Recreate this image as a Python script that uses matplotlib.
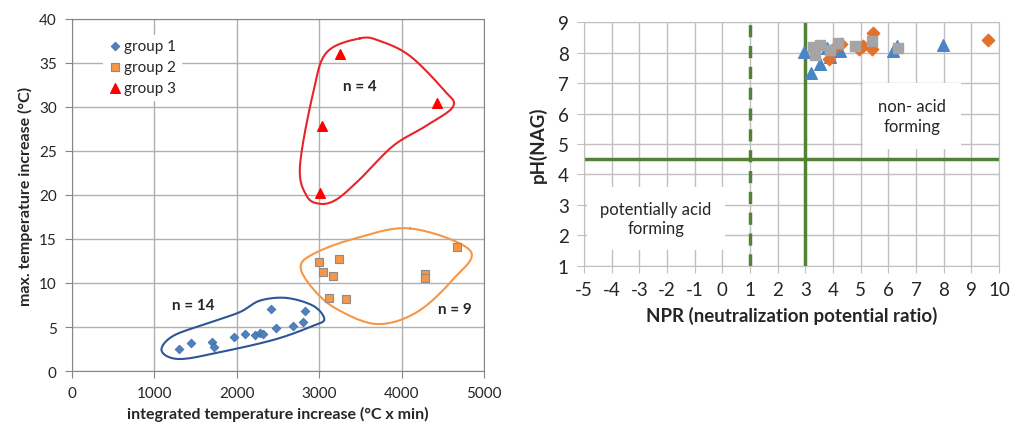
import numpy as np
import matplotlib
matplotlib.use("Agg")
import matplotlib.pyplot as plt

plt.rcParams['font.family'] = ['Lato', 'DejaVu Sans']
plt.rcParams['axes.unicode_minus'] = False

# left chart data
g1_x = [1299, 1440, 1695, 1727, 1970, 2100, 2225, 2285, 2322, 2415, 2476, 2686, 2800, 2828]
g1_y = [2.53, 3.18, 3.26, 2.76, 3.83, 4.24, 4.09, 4.32, 4.2, 7.08, 4.89, 5.08, 5.57, 6.82]
g2_x = [2993, 3244, 3050, 3167, 3123, 3325, 4280, 4280, 4676]
g2_y = [12.35, 12.69, 11.29, 10.8, 8.3, 8.18, 10.98, 10.6, 14.09]
g3_x = [3256, 4430, 3030, 3014]
g3_y = [36.0, 30.45, 27.8, 20.2]

# outlines drawn around each group (control points, smoothed)
loop1 = [(2605, 8.3), (2929, 7.4), (3062, 5.9), (2929, 5.15), (2484, 3.64), (1877, 2.3),
         (1311, 1.36), (1088, 2.3), (1230, 4.0), (1675, 5.5), (2039, 6.7), (2282, 8.0)]
loop2 = [(4102, 16.2), (4830, 13.7), (4628, 10.45), (4183, 6.67), (3698, 5.34), (3212, 7.05),
         (2929, 9.3), (2775, 11.8), (2929, 13.3), (3414, 15.0)]
loop3 = [(3495, 37.8), (3738, 37.5), (4102, 35.8), (4506, 32.0), (4628, 30.1), (4305, 27.9),
         (3900, 25.6), (3495, 21.8), (3212, 19.5), (3010, 19.0), (2848, 19.9), (2767, 23.3),
         (2929, 31.7), (3091, 36.2)]

# right chart data
blue_x = [2.95, 3.2, 3.53, 3.77, 3.9, 4.27, 6.18, 6.3, 7.96]
blue_y = [8.03, 7.35, 7.63, 8.15, 7.85, 8.05, 8.05, 8.22, 8.25]
orange_x = [3.87, 3.95, 4.3, 4.95, 5.08, 5.4, 5.43, 9.62]
orange_y = [7.8, 8.1, 8.28, 8.13, 8.22, 8.12, 8.65, 8.43]
gray_x = [3.27, 3.35, 3.53, 3.9, 4.17, 4.8, 5.4, 6.35]
gray_y = [8.18, 7.92, 8.25, 8.08, 8.32, 8.22, 8.4, 8.15]


def smooth_loop(pts, n=30):
    p = np.array(pts, dtype=float)
    m = len(p)
    out = []
    for i in range(m):
        p0, p1, p2, p3 = p[i - 1], p[i], p[(i + 1) % m], p[(i + 2) % m]
        t = np.linspace(0, 1, n, endpoint=False)[:, None]
        out.append(0.5 * ((2 * p1) + (-p0 + p2) * t + (2 * p0 - 5 * p1 + 4 * p2 - p3) * t ** 2
                          + (-p0 + 3 * p1 - 3 * p2 + p3) * t ** 3))
    out = np.vstack(out)
    return np.vstack([out, out[:1]])


fig = plt.figure(figsize=(10.11, 4.27), dpi=100)

# ---- left chart
ax1 = fig.add_axes([0.0712, 0.1288, 0.4075, 0.8244])
ax1.set_xlim(0, 5000)
ax1.set_ylim(0, 40)
ax1.set_xticks(range(0, 5001, 1000))
ax1.set_yticks(range(0, 41, 5))
ax1.grid(True, color='#b0b0b0', lw=1)
ax1.set_axisbelow(True)
for s in ax1.spines.values():
    s.set_color('#868686')
ax1.tick_params(colors='#868686', labelcolor='#262626', labelsize=11, length=5, pad=6)

for pts, c in [(loop1, '#2e5597'), (loop2, '#f79646'), (loop3, '#e8242a')]:
    xy = smooth_loop(pts)
    ax1.plot(xy[:, 0], xy[:, 1], color=c, lw=1.5, zorder=2)

ax1.scatter(g1_x, g1_y, marker='D', s=20, color='#4f81bd', edgecolors='#3a6aa8', lw=0.5,
            label='group 1', zorder=3)
ax1.scatter(g2_x, g2_y, marker='s', s=40, color='#f79646', edgecolors='#8c8c8c', lw=0.8,
            label='group 2', zorder=3)
ax1.scatter(g3_x, g3_y, marker='^', s=48, color='#ff0000', label='group 3', zorder=3)

ax1.text(3495, 32.4, 'n = 4', fontsize=11, fontweight='bold', ha='center', va='center', color='#262626')
ax1.text(1472, 7.5, 'n = 14', fontsize=11, fontweight='bold', ha='center', va='center', color='#262626')
ax1.text(4648, 7.1, 'n = 9', fontsize=11, fontweight='bold', ha='center', va='center', color='#262626')

leg = ax1.legend(loc='upper left', bbox_to_anchor=(0.075, 0.955), frameon=True, fancybox=False,
                 edgecolor='white', facecolor='white', framealpha=1, fontsize=11,
                 handletextpad=0.1, labelspacing=0.45, borderpad=0.3, handlelength=1.0,
                 borderaxespad=0)
for t in leg.get_texts():
    t.set_color('#262626')

ax1.set_xlabel('integrated temperature increase (°C x min)', fontsize=11.5, fontweight='bold',
               color='#262626', labelpad=4)
ax1.set_ylabel('max. temperature increase (°C)', fontsize=11.5, fontweight='bold',
               color='#262626', labelpad=4)

# ---- right chart
ax2 = fig.add_axes([0.5776, 0.3754, 0.4105, 0.570])
ax2.set_xlim(-5, 10)
ax2.set_ylim(1, 9)
ax2.set_xticks(range(-5, 11))
ax2.set_yticks(range(1, 10))
ax2.grid(True, color='#c0c0c0', lw=1)
ax2.set_axisbelow(True)
for s in ax2.spines.values():
    s.set_color('#c0c0c0')
ax2.tick_params(colors='#c0c0c0', labelcolor='#262626', labelsize=13.5, length=5, pad=6)

ax2.axvline(1, color='#548235', lw=2.5, ls=(0, (3.5, 2.5)), zorder=2)
ax2.axvline(3, color='#548235', lw=2.5, zorder=2)
ax2.axhline(4.5, color='#548235', lw=2.5, zorder=2)

ax2.scatter(blue_x, blue_y, marker='^', s=70, color='#4a86c5', zorder=3)
ax2.scatter(orange_x, orange_y, marker='D', s=40, color='#e2712a', zorder=4)
ax2.scatter(gray_x, gray_y, marker='s', s=55, color='#a5a5a5', zorder=5)

ax2.text(6.85, 5.93, 'non- acid\nforming', fontsize=12, ha='center', va='center', color='#262626',
         linespacing=1.3, zorder=3,
         bbox=dict(boxstyle='square,pad=0.9', facecolor='white', edgecolor='none'))
ax2.text(-2.4, 2.55, 'potentially acid\nforming', fontsize=12, ha='center', va='center',
         color='#262626', linespacing=1.3, zorder=3,
         bbox=dict(boxstyle='square,pad=0.8', facecolor='white', edgecolor='none'))

ax2.set_xlabel('NPR (neutralization potential ratio)', fontsize=13.5, fontweight='bold',
               color='#262626', labelpad=6)
ax2.set_ylabel('pH(NAG)', fontsize=13.5, fontweight='bold', color='#262626', labelpad=8)

fig.savefig('out.png', dpi=100)
